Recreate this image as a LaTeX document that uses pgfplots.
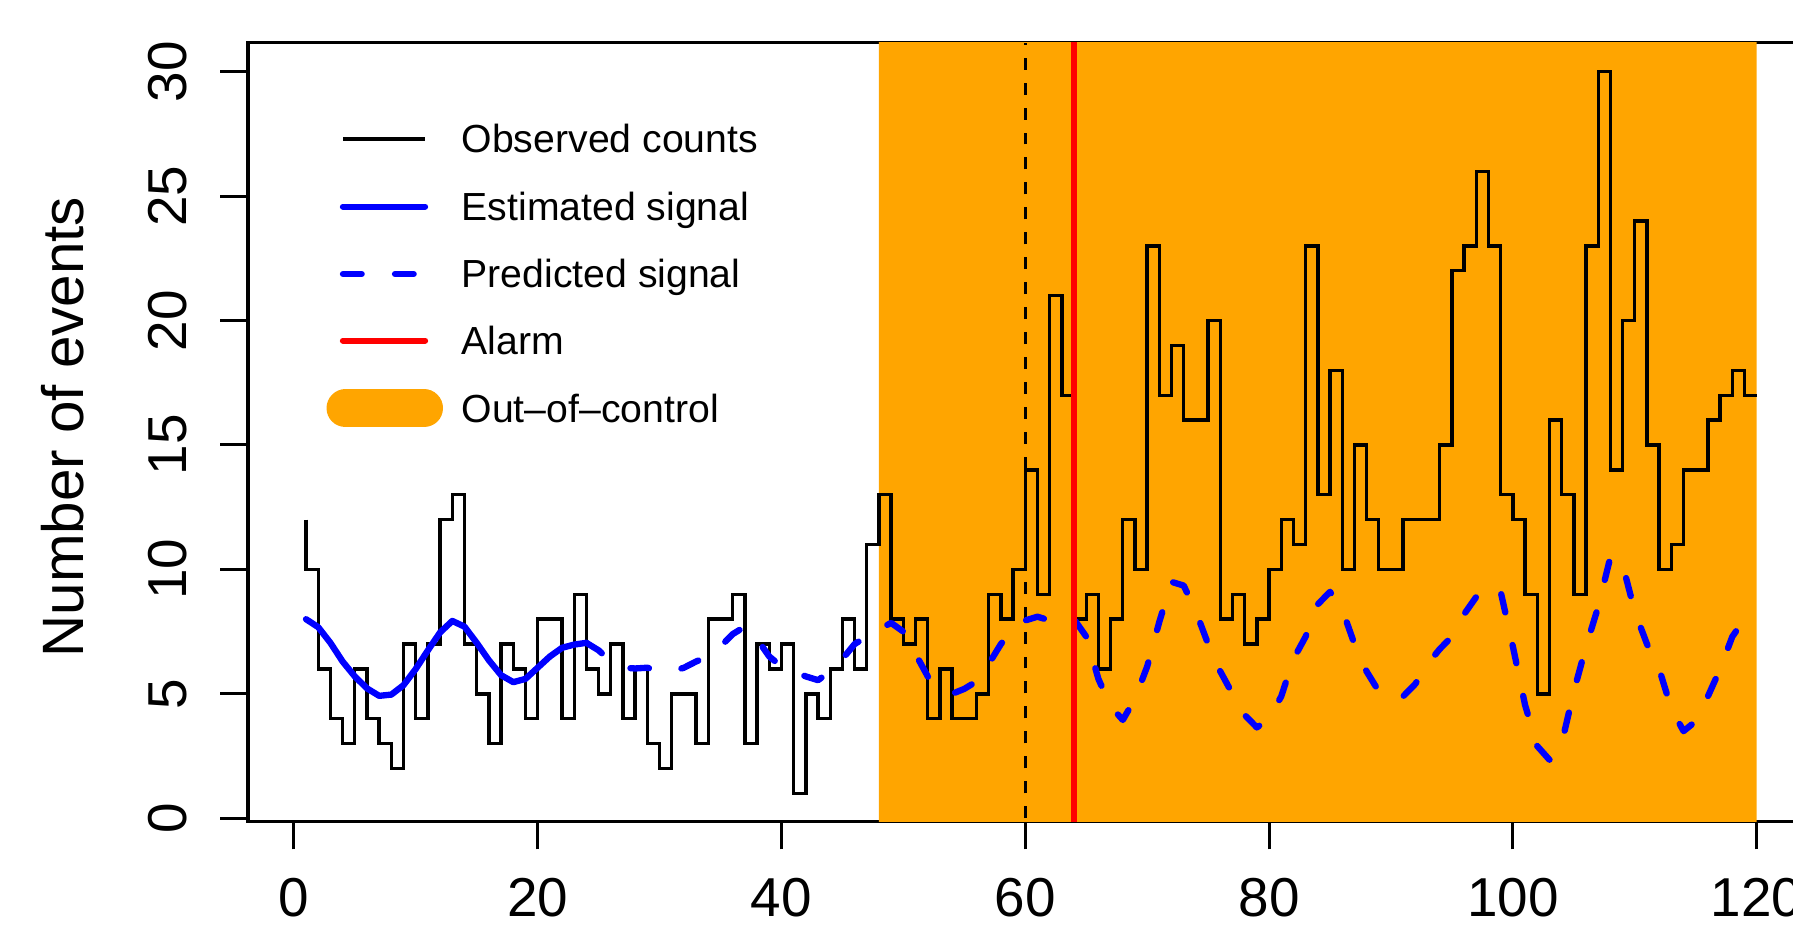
\documentclass[border=0pt]{standalone}
\usepackage{fontspec}
\setmainfont{Liberation Sans}
\usepackage{pgfplots}
\pgfplotsset{compat=1.18}
\definecolor{rorange}{HTML}{FFA500}

\begin{document}
\begin{tikzpicture}
\useasboundingbox (0,0) rectangle (17.93,9.27);
\clip (0,0) rectangle (17.93,9.27);
\begin{axis}[
    at={(2.48cm,1.053cm)}, anchor=south west,
    scale only axis, width=15.667cm, height=7.79cm,
    xmin=-3.76, xmax=124.76, ymin=-0.137, ymax=31.165,
    axis line style={line width=0.9pt},
    tick style={line width=0.85pt, black},
    tick align=outside, major tick length=0.277cm,
    xtick={0,20,...,120}, ytick={0,5,...,30},
    xtick pos=left, ytick pos=left,
    minor tick num=0,
    /pgf/number format/assume math mode=true,
    tick label style={font=\fontsize{15.6}{18}\selectfont},
    xticklabel style={anchor=base, yshift=-0.669cm},
    yticklabel style={xshift=-0.336cm, rotate=90, anchor=base},
    clip=true,
]
% out-of-control period
\addplot[draw=none, fill=rorange] coordinates {(48,-1) (120,-1) (120,32) (48,32) (48,-1)};
% observed counts
\addplot[black, line width=0.97pt, const plot mark right] coordinates {
(1,12) (2,10) (3,6) (4,4) (5,3) (6,6) (7,4) (8,3) (9,2) (10,7)
(11,4) (12,7) (13,12) (14,13) (15,7) (16,5) (17,3) (18,7) (19,6) (20,4)
(21,8) (22,8) (23,4) (24,9) (25,6) (26,5) (27,7) (28,4) (29,6) (30,3)
(31,2) (32,5) (33,5) (34,3) (35,8) (36,8) (37,9) (38,3) (39,7) (40,6)
(41,7) (42,1) (43,5) (44,4) (45,6) (46,8) (47,6) (48,11) (49,13) (50,8)
(51,7) (52,8) (53,4) (54,6) (55,4) (56,4) (57,5) (58,9) (59,8) (60,10)
(61,14) (62,9) (63,21) (64,17) (65,8) (66,9) (67,6) (68,8) (69,12) (70,10)
(71,23) (72,17) (73,19) (74,16) (75,16) (76,20) (77,8) (78,9) (79,7) (80,8)
(81,10) (82,12) (83,11) (84,23) (85,13) (86,18) (87,10) (88,15) (89,12) (90,10)
(91,10) (92,12) (93,12) (94,12) (95,15) (96,22) (97,23) (98,26) (99,23) (100,13)
(101,12) (102,9) (103,5) (104,16) (105,13) (106,9) (107,23) (108,30) (109,14) (110,20)
(111,24) (112,15) (113,10) (114,11) (115,14) (116,14) (117,16) (118,17) (119,18) (120,17)
};
% start of monitoring
\addplot[black, line width=0.94pt, dash pattern=on 3.4pt off 3.7pt] coordinates {(60,-1) (60,31.165)};
% estimated signal
\addplot[blue, line width=1.8pt, line cap=round, line join=round] coordinates {
(1,8.0) (2,7.68) (3,7.05) (4,6.3) (5,5.7) (6,5.22) (7,4.92) (8,4.97) (9,5.35) (10,6.0)
(11,6.75) (12,7.47) (13,7.93) (14,7.7) (15,7.05) (16,6.35) (17,5.75) (18,5.47) (19,5.6) (20,6.05)
(21,6.5) (22,6.85) (23,6.98) (24,7.05)
};
% predicted signal
\addplot[blue, line width=1.8pt, line cap=round, line join=round, dash pattern=on 5.3pt off 9.5pt] coordinates {
(24,7.05) (25,6.75) (26,6.3) (27,6.05) (28,6.02) (29,6.05) (30,5.9) (31,5.9) (32,6.05) (33,6.3)
(34,6.5) (35,6.9) (36,7.4) (37,7.7) (38,7.2) (39,6.5) (40,6.1) (41,5.9) (42,5.7) (43,5.55)
(44,5.9) (45,6.4) (46,7.0) (47,7.3) (48,7.6) (49,7.85) (50,7.5) (51,6.6) (52,5.7) (53,5.2)
(54,5.0) (55,5.2) (56,5.5) (57,6.2) (58,7.0) (59,7.6) (60,7.95) (61,8.1) (62,7.95) (63,7.85)
(64,8.0) (65,7.3) (66,5.6) (67,4.5) (68,3.95) (69,4.8) (70,6.1) (71,7.9) (72,9.5) (73,9.35)
(74,8.3) (75,7.0) (76,5.9) (77,5.0) (78,4.15) (79,3.65) (80,4.0) (81,4.9) (82,6.4) (83,7.3)
(84,8.6) (85,9.1) (86,8.4) (87,7.0) (88,5.9) (89,5.1) (90,4.8) (91,4.9) (92,5.4) (93,6.2)
(94,6.8) (95,7.3) (96,8.2) (97,8.9) (98,9.35) (99,9.1) (100,6.9) (101,4.55) (102,2.9) (103,2.35)
(104,3.0) (105,5.1) (106,6.9) (107,8.5) (108,10.5) (109,10.2) (110,8.3) (111,7.0) (112,6.0) (113,4.4)
(114,3.5) (115,3.9) (116,4.9) (117,6.0) (118,7.3) (119,8.0)
};
% alarm
\addplot[red, line width=1.8pt] coordinates {(64,-1) (64,32)};
\end{axis}

% y label
\node[rotate=90, anchor=base, inner sep=0pt, font=\fontsize{16.6}{19}\selectfont] at (0.83,5.0) {Number of events};

% legend
\begin{scope}[font=\fontsize{11.15}{13}\selectfont]
\draw[black, line width=0.94pt] (3.43,7.88) -- (4.25,7.88);
\draw[blue, line width=1.8pt, line cap=round] (3.43,7.203) -- (4.25,7.203);
\draw[blue, line width=1.8pt, line cap=round, dash pattern=on 5.3pt off 9.5pt] (3.43,6.53) -- (4.25,6.53);
\draw[red, line width=1.8pt, line cap=round] (3.43,5.863) -- (4.25,5.863);
\draw[rorange, line width=0.38cm, line cap=round] (3.455,5.187) -- (4.24,5.187);
\node[anchor=base west, inner sep=0pt] at (4.61,7.74) {Observed counts};
\node[anchor=base west, inner sep=0pt] at (4.61,7.067) {Estimated signal};
\node[anchor=base west, inner sep=0pt] at (4.61,6.394) {Predicted signal};
\node[anchor=base west, inner sep=0pt] at (4.61,5.721) {Alarm};
\node[anchor=base west, inner sep=0pt] at (4.61,5.048) {Out--of--control};
\end{scope}
\end{tikzpicture}
\end{document}
